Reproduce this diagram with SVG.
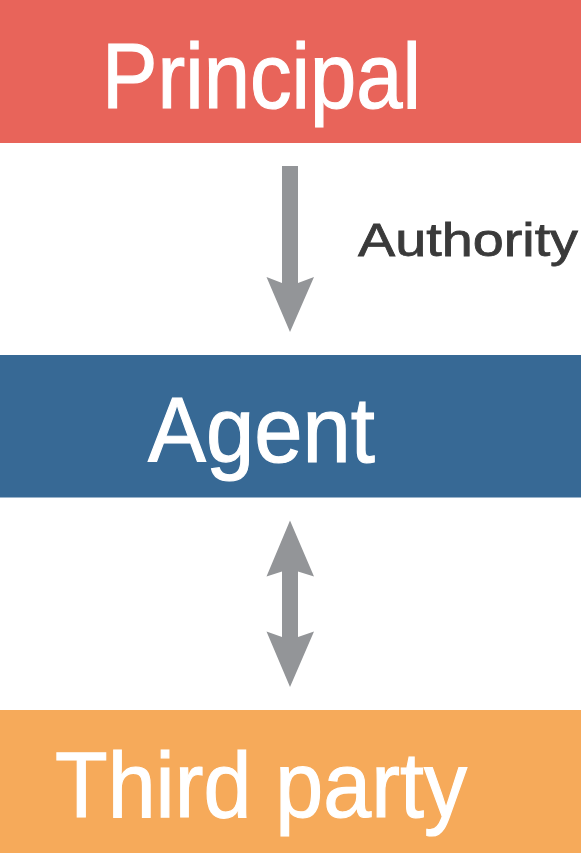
<svg xmlns="http://www.w3.org/2000/svg" width="581" height="853" viewBox="0 0 581 853">
<style>
.lbl{font-family:"Liberation Sans",Arial,sans-serif;fill:#ffffff;stroke:#ffffff;stroke-width:1.2px;font-size:93px}
.arr{fill:#939598}
.note{font-family:"Liberation Sans",Arial,sans-serif;fill:#3a3a3a;stroke:#3a3a3a;stroke-width:0.8px;font-size:46px}
</style>
<rect width="581" height="853" fill="#ffffff"/>
<g id="principal">
<rect x="0" y="0" width="581" height="143" fill="#E8645A"/>
<text class="lbl" x="102" y="108" textLength="319" lengthAdjust="spacingAndGlyphs">Principal</text>
</g>
<g id="agent">
<rect x="0" y="355" width="581" height="142.5" fill="#376995"/>
<text class="lbl" x="148" y="462" textLength="227" lengthAdjust="spacingAndGlyphs">Agent</text>
</g>
<g id="third-party">
<rect x="0" y="710" width="581" height="143" fill="#F6AA5A"/>
<text class="lbl" x="55" y="817" textLength="412" lengthAdjust="spacingAndGlyphs">Third party</text>
</g>
<g id="connectors">
<polygon class="arr" points="282,166 298,166 298,283 314,277 290,332 266.5,277 282,283"/>
<polygon class="arr" points="290,520.5 314,576.5 298,571.5 298,637 314,631.5 290,687 266.5,631.5 282,637 282,571.5 266.5,576.5"/>
<text class="note" x="358" y="256" textLength="220" lengthAdjust="spacingAndGlyphs">Authority</text>
</g>
</svg>
